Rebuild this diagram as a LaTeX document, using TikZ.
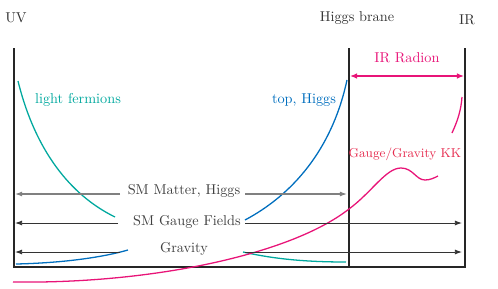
\documentclass[tikz,border=0pt]{standalone}
\usepackage{amsmath}
\usepackage{tikz}
\usetikzlibrary{arrows.meta, positioning, calc}

\definecolor{fermteal}{RGB}{0,168,158}
\definecolor{higgsblue}{RGB}{0,110,190}
\definecolor{radmag}{RGB}{232,20,120}
\definecolor{kkred}{RGB}{230,45,80}

\begin{document}
\begin{tikzpicture}[x=0.7pt, y=-0.7pt,
    brane/.style={line width=1.3pt, black!85},
    prop/.style={line width=0.9pt},
    field/.style={black!75},
    flow/.style={line width=0.6pt, black!80, -{Latex[length=5pt, width=3.5pt]}}]
  \useasboundingbox (0,0) rectangle (498,288);

  % Branes
  \coordinate (uvtop) at (14,48);
  \coordinate (uvbot) at (14,267);
  \coordinate (hbtop) at (349,48);
  \coordinate (hbbot) at (349,267);
  \coordinate (irtop) at (465,48);
  \coordinate (irbot) at (465,267);
  \draw[brane] (uvtop) -- (uvbot) -- (irbot) -- (irtop);
  \draw[brane] (hbtop) -- (hbbot);

  \node[black!80] (uv) at (16,18) {UV};
  \node[black!80] (hb) at (357,18) {Higgs brane};
  \node[black!80] (ir) at (467,20) {IR};

  % Radion
  \node[radmag] (radion) at (407,58) {IR Radion};
  \draw[line width=0.9pt, radmag, {Latex[length=5pt, width=4pt]}-{Latex[length=5pt, width=4pt]}]
    ($(hbtop |- 0,76)+(1,0)$) -- ($(irtop |- 0,76)+(-1,0)$);

  % Profiles
  \node[fermteal] (light) at (78,100) {light fermions};
  \draw[prop, fermteal] (18,81) .. controls (35,150) and (70,195) .. (115,217);
  \node[higgsblue] (top) at (304,100) {top, Higgs};
  \draw[prop, higgsblue] (347,80) .. controls (332,150) and (292,195) .. (245,220);
  \draw[prop, higgsblue] (16,264) .. controls (60,263) and (100,258) .. (128,250);
  \draw[prop, fermteal] (243,252) .. controls (270,258) and (300,262) .. (346,262);

  % KK modes
  \node[kkred, font=\small] (kk) at (405,154) {Gauge/Gravity KK};
  \draw[prop, radmag] (13,282) .. controls (150,284) and (290,255) .. (349,209)
    .. controls (372,192) and (386,168) .. (401,168)
    .. controls (413,168) and (416,180) .. (425,180)
    .. controls (430,180) and (434,178) .. (438,176);
  \draw[prop, radmag] (452,133) .. controls (458,120) and (461,110) .. (462,97);

  % Fields
  \node[field] (matter) at (184,191) {SM Matter, Higgs};
  \node[field] (gauge) at (187,222) {SM Gauge Fields};
  \node[field] (grav) at (184,249) {Gravity};
  \coordinate (matterL) at (120,194);
  \coordinate (matterR) at (245,194);
  \coordinate (gaugeL) at (118,223);
  \coordinate (gaugeR) at (245,223);
  \coordinate (gravL) at (120,252);
  \coordinate (gravR) at (245,252);
  \draw[flow, black!50, line width=0.8pt] (matterL) -- ($(matterL -| uvbot)+(1,0)$);
  \draw[flow, black!50, line width=0.8pt] (matterR) -- ($(matterR -| hbbot)+(-2,0)$);
  \draw[flow] (gaugeL) -- ($(gaugeL -| uvbot)+(1,0)$);
  \draw[flow] (gaugeR) -- ($(gaugeR -| irbot)+(-3,0)$);
  \draw[flow] (gravL) -- ($(gravL -| uvbot)+(1,0)$);
  \draw[flow] (gravR) -- ($(gravR -| irbot)+(-3,0)$);
\end{tikzpicture}
\end{document}
